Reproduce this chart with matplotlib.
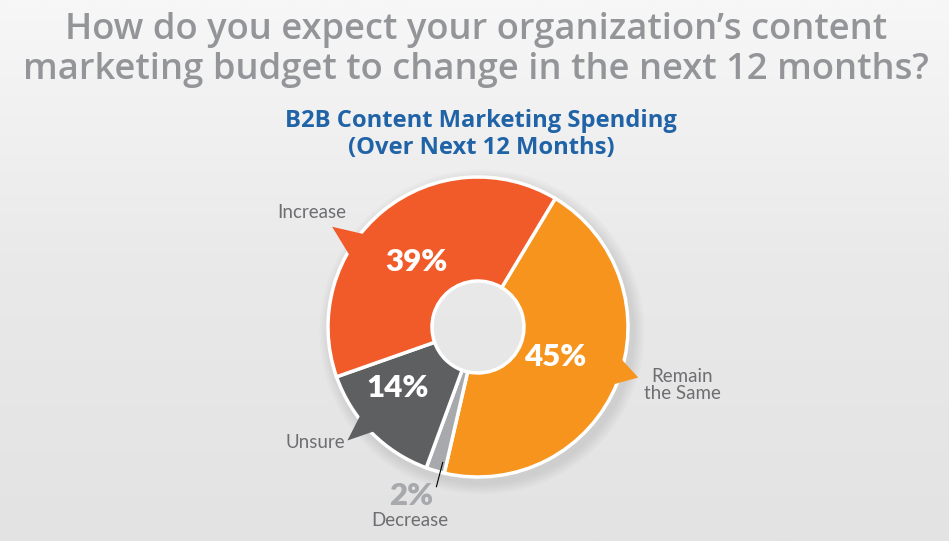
import numpy as np
import matplotlib.pyplot as plt
from matplotlib.patches import Polygon, Wedge
from matplotlib.colors import LinearSegmentedColormap

# data
labels = ["Remain\nthe Same", "Decrease", "Unsure", "Increase"]
values = [45, 2, 14, 39]
colors = ["#F7941E", "#A7A9AC", "#5E5F61", "#F15A29"]
pct_text = ["45%", "2%", "14%", "39%"]

title_lines = ["How do you expect your organization\u2019s content",
               "marketing budget to change in the next 12 months?"]
subtitle_lines = ["B2B Content Marketing Spending", "(Over Next 12 Months)"]

W, H = 949, 541
cx, cy = 478, H - 327
R = 150
HOLE = 46

fig = plt.figure(figsize=(W / 100, H / 100), dpi=100)
ax = fig.add_axes([0, 0, 1, 1])

# background gradient
grad = np.linspace(0, 1, 256).reshape(-1, 1)
bg = LinearSegmentedColormap.from_list("bg", ["#E3E3E3", "#E9E9E9", "#F7F7F7"])
ax.imshow(grad, extent=[0, W, 0, H], cmap=bg, origin="lower", aspect="auto", zorder=0)

# soft shadow, only outside the hole
for k in range(8):
    ax.add_patch(Wedge((cx + 4, cy - 5), R + 2 + k * 1.5, 0, 360,
                       width=R + 2 + k * 1.5 - HOLE - 20, color="#9A9A9A",
                       alpha=0.035, lw=0, zorder=1))

wedges, _ = ax.pie(values, colors=colors, startangle=59, counterclock=False,
                   center=(cx, cy), radius=R, frame=True,
                   wedgeprops=dict(width=R - HOLE, edgecolor="white", linewidth=2.5))
for w in wedges:
    w.set_zorder(2)
ax.set_xlim(0, W)
ax.set_ylim(0, H)
ax.set_aspect("equal")
ax.axis("off")


def polar(ang, r):
    a = np.deg2rad(ang)
    return cx + r * np.cos(a), cy + r * np.sin(a)


# callout tails: (tip angle, tip radius, base angle 1, base angle 2)
tails = {0: (-17.5, 168, -10, -26), 2: (221, 173, 215, 227), 3: (145.5, 177, 139, 153)}
for i, (ta, tr, b1, b2) in tails.items():
    pts = [polar(ta, tr), polar(b1, R - 12), polar(b2, R - 12)]
    ax.add_patch(Polygon(pts, closed=True, color=colors[i], lw=0, zorder=3))

# decrease leader line
mid_dec = 59 - (values[0] + values[1] / 2) * 3.6
x0, y0 = polar(mid_dec + 2, R - 10)
x1, y1 = polar(mid_dec + 2, R + 15)
ax.plot([x0, x1], [y0, y1], color="black", lw=0.8, zorder=4)

# percentage labels inside slices
lab_font = ["Lato", "DejaVu Sans"]
pk = dict(fontsize=22.5, fontweight="heavy", ha="center", va="center", family=lab_font, zorder=5)
ax.text(555, H - 357, pct_text[0], color="white", **pk)
ax.text(398, H - 388, pct_text[2], color="white", **pk)
ax.text(416, H - 262, pct_text[3], color="white", **pk)
ax.text(411, H - 496, pct_text[1], color="#A7A9AC", **pk)

# category labels
lc = "#6D6E71"
lk = dict(color=lc, fontsize=13.5, ha="center", va="center", family=lab_font)
ax.text(312, H - 212, labels[3], **lk)
ax.text(682, H - 385, labels[0], linespacing=1.05, **lk)
ax.text(315, H - 443, labels[2], **lk)
ax.text(410, H - 521, labels[1], **lk)

# titles
renderer = fig.canvas.get_renderer()


def fit(texts, width):
    # scale font so the widest line spans `width` pixels
    w = max(t.get_window_extent(renderer).width for t in texts)
    for t in texts:
        t.set_fontsize(t.get_fontsize() * width / w)


tk = dict(color="#939598", fontsize=27, fontweight="semibold", ha="center", va="baseline",
          family=["Open Sans", "DejaVu Sans"])
t1 = ax.text(476, H - 39, title_lines[0], **tk)
t2 = ax.text(476, H - 79, title_lines[1], **tk)
fit([t1, t2], 906)

sk = dict(color="#2163A7", fontsize=15.5, fontweight="bold", ha="center", va="baseline",
          family=["Open Sans", "DejaVu Sans"])
s1 = ax.text(481, H - 127, subtitle_lines[0], **sk)
s2 = ax.text(481, H - 154, subtitle_lines[1], **sk)
fit([s1, s2], 390)

fig.savefig("out.png", dpi=100)
